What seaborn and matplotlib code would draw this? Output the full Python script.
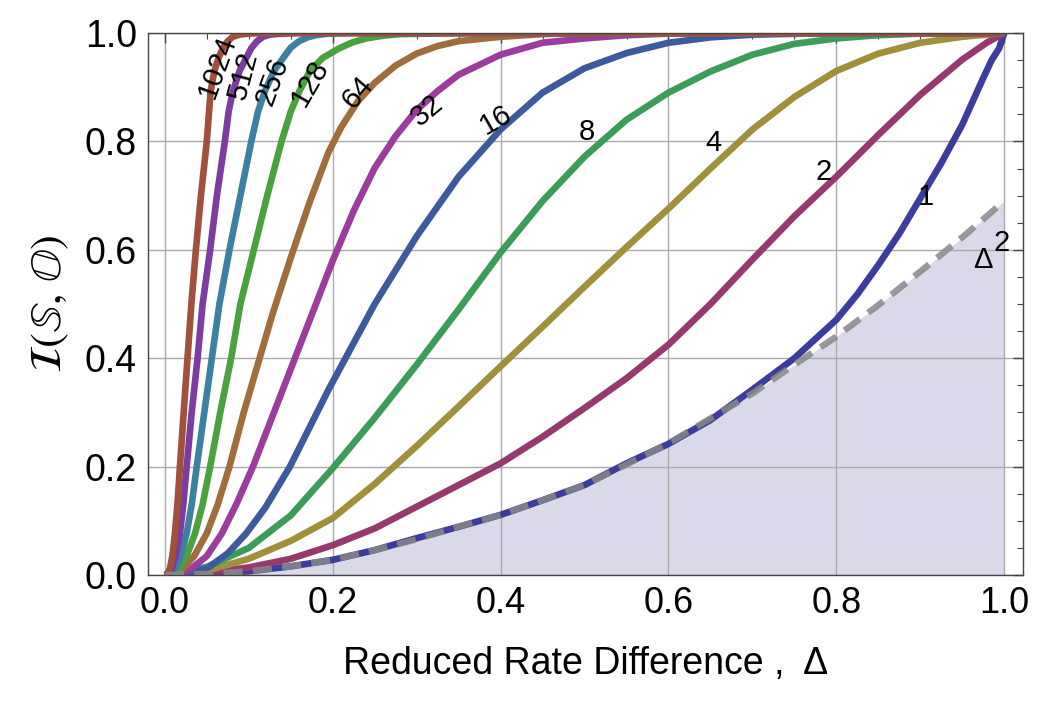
import pandas as pd
import seaborn as sns
import matplotlib.pyplot as plt

# valores: Delta -> I(S,O) para cada N
n_valores = [1, 2, 4, 8, 16, 32, 64, 128, 256, 512, 1024]

colores = ["#3c3c9c", "#963a6e", "#a0903c", "#3c9c5a", "#3c5a9c", "#9c3c9c",
           "#a06e3c", "#4ba03f", "#3c82a0", "#7d3ca0", "#a0503c"]

delta_1 = [0, 0.05, 0.1, 0.15, 0.2, 0.25, 0.3, 0.35, 0.4, 0.45, 0.5, 0.55, 0.6, 0.65, 0.7,
           0.75, 0.8, 0.825, 0.85, 0.875, 0.9, 0.925, 0.95, 0.975, 0.985, 0.994, 1.0]
info_1 = [0, 0.002, 0.007, 0.016, 0.028, 0.046, 0.068, 0.089, 0.111, 0.138, 0.166, 0.206,
          0.242, 0.286, 0.342, 0.4, 0.471, 0.518, 0.572, 0.63, 0.695, 0.76, 0.831, 0.917,
          0.95, 0.972, 1.0]

delta_2 = [0, 0.05, 0.1, 0.15, 0.2, 0.25, 0.3, 0.35, 0.4, 0.45, 0.5, 0.55, 0.6, 0.65, 0.7,
           0.75, 0.8, 0.85, 0.9, 0.95, 0.98, 1.0]
info_2 = [0, 0.004, 0.014, 0.03, 0.055, 0.086, 0.126, 0.166, 0.206, 0.255, 0.308, 0.363,
          0.425, 0.5, 0.582, 0.662, 0.735, 0.812, 0.886, 0.951, 0.983, 1.0]

delta_4 = [0, 0.05, 0.1, 0.15, 0.2, 0.25, 0.3, 0.35, 0.4, 0.45, 0.5, 0.55, 0.6, 0.65, 0.7,
           0.75, 0.8, 0.85, 0.9, 0.95, 1.0]
info_4 = [0, 0.008, 0.03, 0.063, 0.105, 0.168, 0.238, 0.311, 0.385, 0.458, 0.532, 0.605,
          0.676, 0.75, 0.822, 0.882, 0.93, 0.962, 0.982, 0.993, 1.0]

delta_8 = [0, 0.05, 0.1, 0.15, 0.2, 0.25, 0.3, 0.35, 0.4, 0.45, 0.5, 0.55, 0.6, 0.65, 0.7,
           0.75, 0.8, 0.85, 0.9, 1.0]
info_8 = [0, 0.015, 0.05, 0.11, 0.197, 0.29, 0.388, 0.49, 0.595, 0.69, 0.772, 0.84,
          0.89, 0.929, 0.96, 0.98, 0.99, 0.996, 0.999, 1.0]

delta_16 = [0, 0.025, 0.05, 0.075, 0.097, 0.12, 0.149, 0.195, 0.25, 0.3, 0.35, 0.4, 0.45,
            0.5, 0.55, 0.6, 0.65, 0.7, 0.8, 1.0]
info_16 = [0, 0.003, 0.012, 0.04, 0.077, 0.125, 0.2, 0.342, 0.5, 0.625, 0.735, 0.822, 0.89,
           0.935, 0.963, 0.982, 0.992, 0.997, 1.0, 1.0]

delta_32 = [0, 0.015, 0.03, 0.05, 0.068, 0.085, 0.105, 0.13, 0.155, 0.18, 0.2, 0.225, 0.25,
            0.275, 0.3, 0.325, 0.35, 0.4, 0.45, 0.5, 0.55, 0.6, 0.7, 1.0]
info_32 = [0, 0.002, 0.01, 0.035, 0.077, 0.13, 0.2, 0.3, 0.4, 0.5, 0.58, 0.672, 0.751,
           0.81, 0.858, 0.893, 0.923, 0.96, 0.982, 0.99, 0.996, 0.999, 1.0, 1.0]

delta_64 = [0, 0.01, 0.02, 0.035, 0.05, 0.063, 0.077, 0.094, 0.111, 0.128, 0.151, 0.173,
            0.195, 0.21, 0.23, 0.25, 0.275, 0.3, 0.325, 0.35, 0.4, 0.45, 0.5, 1.0]
info_64 = [0, 0.002, 0.01, 0.035, 0.077, 0.13, 0.2, 0.3, 0.39, 0.48, 0.59, 0.69, 0.78,
           0.826, 0.874, 0.908, 0.94, 0.962, 0.976, 0.985, 0.993, 0.998, 1.0, 1.0]

delta_128 = [0, 0.008, 0.016, 0.026, 0.036, 0.045, 0.054, 0.066, 0.079, 0.09, 0.106, 0.122,
             0.139, 0.15, 0.16, 0.173, 0.188, 0.208, 0.224, 0.24, 0.26, 0.28, 0.35, 1.0]
info_128 = [0, 0.002, 0.01, 0.035, 0.077, 0.13, 0.2, 0.3, 0.4, 0.5, 0.6, 0.7, 0.8, 0.855,
            0.892, 0.93, 0.954, 0.972, 0.983, 0.99, 0.995, 0.998, 1.0, 1.0]

delta_256 = [0, 0.006, 0.012, 0.019, 0.026, 0.032, 0.038, 0.047, 0.056, 0.065, 0.077, 0.09,
             0.103, 0.111, 0.119, 0.13, 0.141, 0.15, 0.16, 0.17, 0.18, 0.195, 0.22, 1.0]
info_256 = [0, 0.002, 0.01, 0.035, 0.077, 0.13, 0.2, 0.3, 0.4, 0.5, 0.6, 0.7, 0.8, 0.855,
            0.892, 0.93, 0.954, 0.973, 0.985, 0.992, 0.996, 0.999, 1.0, 1.0]

delta_512 = [0, 0.004, 0.008, 0.013, 0.018, 0.022, 0.026, 0.032, 0.039, 0.045, 0.054, 0.062,
             0.0715, 0.076, 0.081, 0.089, 0.097, 0.103, 0.11, 0.117, 0.125, 0.14, 0.16, 1.0]
info_512 = [0, 0.002, 0.01, 0.035, 0.077, 0.13, 0.2, 0.3, 0.4, 0.5, 0.6, 0.7, 0.8, 0.855,
            0.892, 0.93, 0.954, 0.972, 0.985, 0.993, 0.997, 0.999, 1.0, 1.0]

delta_1024 = [0, 0.003, 0.006, 0.009, 0.012, 0.015, 0.018, 0.022, 0.027, 0.032, 0.037,
              0.043, 0.05, 0.0545, 0.059, 0.064, 0.069, 0.075, 0.081, 0.089, 0.1, 0.12, 1.0]
info_1024 = [0, 0.002, 0.012, 0.035, 0.077, 0.13, 0.2, 0.29, 0.4, 0.508, 0.6, 0.7, 0.8,
             0.892, 0.93, 0.954, 0.972, 0.985, 0.993, 0.997, 0.999, 1.0, 1.0]

# curva de referencia Delta^2 (punteada) y area sombreada
delta_ref = [0, 0.05, 0.1, 0.15, 0.2, 0.25, 0.3, 0.35, 0.4, 0.45, 0.5, 0.55, 0.6, 0.65, 0.7,
             0.75, 0.8, 0.85, 0.9, 0.95, 1.0]
info_ref = [0, 0.002, 0.007, 0.016, 0.028, 0.046, 0.066, 0.089, 0.111, 0.138, 0.166, 0.204,
            0.243, 0.289, 0.335, 0.388, 0.44, 0.498, 0.56, 0.623, 0.69]

# etiquetas de las curvas: texto, posicion, rotacion
etiquetas = ["1024", "512", "256", "128", "64", "32", "16", "8", "4", "2", "1"]
etiq_x = [0.062, 0.093, 0.128, 0.173, 0.23, 0.313, 0.394, 0.503, 0.654, 0.785, 0.907]
etiq_y = [0.937, 0.922, 0.91, 0.907, 0.891, 0.858, 0.84, 0.817, 0.797, 0.744, 0.697]
etiq_rot = [70, 75, 70, 60, 50, 40, 30, 0, 0, 0, 0]


def armar_df():
    curvas = {
        1: (delta_1, info_1), 2: (delta_2, info_2), 4: (delta_4, info_4),
        8: (delta_8, info_8), 16: (delta_16, info_16), 32: (delta_32, info_32),
        64: (delta_64, info_64), 128: (delta_128, info_128), 256: (delta_256, info_256),
        512: (delta_512, info_512), 1024: (delta_1024, info_1024),
    }
    partes = []
    for n in n_valores:
        d, i = curvas[n]
        partes.append(pd.DataFrame({"Delta": d, "Info": i, "N": n}))
    return pd.concat(partes, ignore_index=True)


def crear_grafico():
    sns.set_style("white")
    plt.rcParams["mathtext.fontset"] = "stix"
    plt.rcParams["text.color"] = "black"
    plt.rcParams["axes.labelcolor"] = "black"
    plt.rcParams["xtick.color"] = "black"
    plt.rcParams["ytick.color"] = "black"

    fig = plt.figure(figsize=(10.5, 7.13), dpi=100)
    ax = fig.add_axes([0.141, 0.1935, 0.833, 0.7602])

    df = armar_df()
    paleta = dict(zip(n_valores, colores))

    ax.fill_between(delta_ref, info_ref, 0, color="#d9d9ea", linewidth=0, zorder=0.2)

    sns.lineplot(data=df, x="Delta", y="Info", hue="N", hue_order=n_valores,
                 palette=paleta, linewidth=4.8, legend=False, estimator=None,
                 sort=False, ax=ax, zorder=2, solid_joinstyle="round",
                 solid_capstyle="butt")

    sns.lineplot(x=delta_ref, y=info_ref, color="#888888", alpha=0.85, linewidth=4.6,
                 linestyle=(0, (3, 1.6)), estimator=None, sort=False, ax=ax, zorder=3)

    for txt, x, y, r in zip(etiquetas, etiq_x, etiq_y, etiq_rot):
        ax.text(x, y, txt, fontsize=21, rotation=r, ha="center", va="center",
                family="Liberation Sans", zorder=4, rotation_mode="anchor")
    ax.text(0.974, 0.582, "Δ", fontsize=21, ha="center", va="center",
            family="Liberation Sans", zorder=4)
    ax.text(0.997, 0.612, "2", fontsize=21, ha="center", va="center",
            family="Liberation Sans", zorder=4)

    ax.set_xlim(-0.02, 1.022)
    ax.set_ylim(0, 1)
    ax.set_xticks([0, 0.2, 0.4, 0.6, 0.8, 1.0])
    ax.set_yticks([0, 0.2, 0.4, 0.6, 0.8, 1.0])
    ax.set_xticks([i * 0.05 for i in range(21)], minor=True)
    ax.set_yticks([i * 0.05 for i in range(21)], minor=True)
    estrecha = ["Liberation Sans Narrow", "DejaVu Sans Condensed", "Liberation Sans"]
    ax.set_xticklabels(["0.0", "0.2", "0.4", "0.6", "0.8", "1.0"],
                       family=estrecha, fontsize=26)
    ax.set_yticklabels(["0.0", "0.2", "0.4", "0.6", "0.8", "1.0"],
                       family="Liberation Sans", fontsize=27)

    ax.tick_params(which="both", direction="in", top=True, right=True, color="#444444")
    ax.tick_params(which="major", length=7, width=1, pad=8)
    ax.tick_params(which="minor", length=4, width=0.8)

    ax.set_axisbelow(True)
    ax.grid(True, which="major", color="#aaaaaa", linewidth=1)
    for lado in ax.spines.values():
        lado.set_color("#444444")
        lado.set_linewidth(1)

    ax.set_xlabel("Reduced Rate Difference ,  Δ", fontsize=27, family=estrecha,
                  labelpad=18)
    ax.set_ylabel(r"$\mathcal{I}(\mathbb{S},\,\mathbb{O})$", fontsize=32, labelpad=10)

    fig.savefig("out.png", dpi=100)


def main():
    crear_grafico()


if __name__ == "__main__":
    main()
